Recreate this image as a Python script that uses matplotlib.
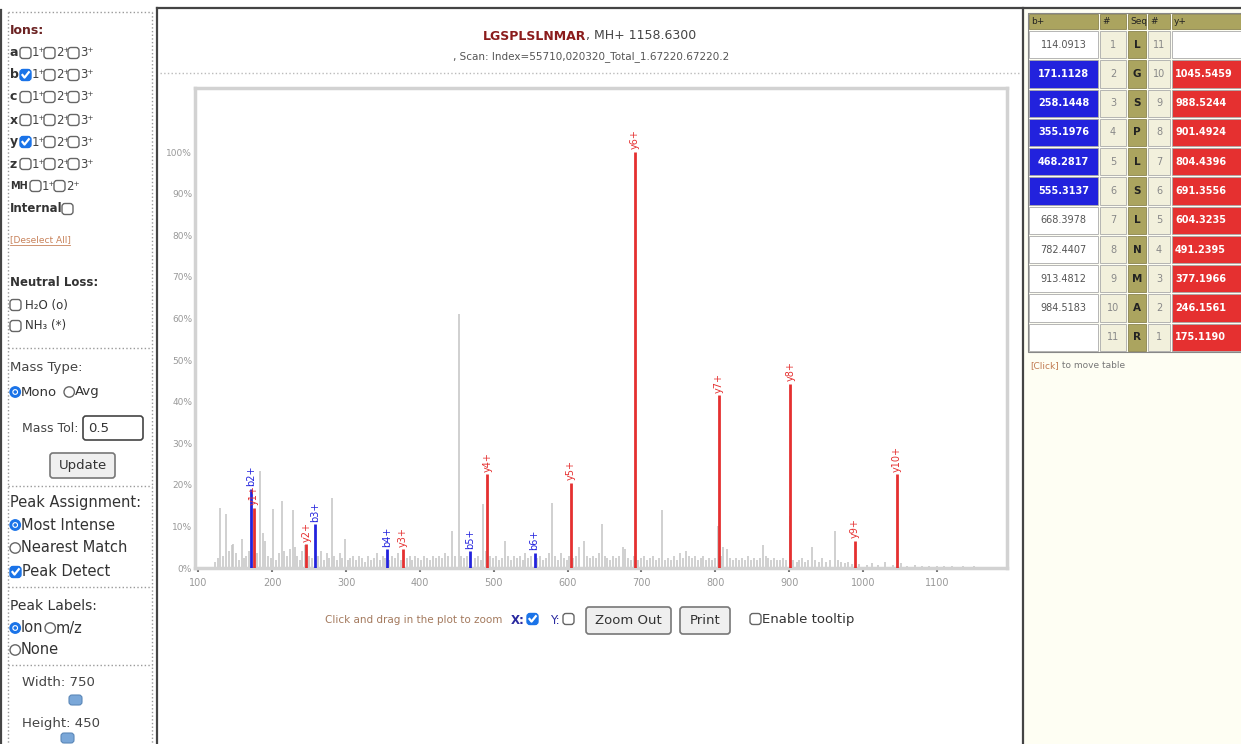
import matplotlib
matplotlib.use("Agg")
import matplotlib.pyplot as plt
from matplotlib.patches import Rectangle, Circle, FancyBboxPatch

# ---------------- data ----------------
sequence = list("LGSPLSLNMAR")
b_values = [114.0913, 171.1128, 258.1448, 355.1976, 468.2817, 555.3137,
            668.3978, 782.4407, 913.4812, 984.5183, None]
y_values = [None, 1045.5459, 988.5244, 901.4924, 804.4396, 691.3556,
            604.3235, 491.2395, 377.1966, 246.1561, 175.1190]
b_matched = [False, True, True, True, True, True, False, False, False, False, False]
y_matched = [False, True, True, True, True, True, True, True, True, True, True]

b_labels = ["b2+", "b3+", "b4+", "b5+", "b6+"]
b_mz = [171.11, 258.14, 355.20, 468.28, 555.31]
b_int = [19.0, 10.5, 4.5, 4.0, 3.7]

y_labels = ["y1+", "y2+", "y3+", "y4+", "y5+", "y6+", "y7+", "y8+", "y9+", "y10+"]
y_mz = [175.12, 246.16, 377.20, 491.24, 604.32, 691.36, 804.44, 901.49, 988.52, 1045.55]
y_int = [14.5, 5.7, 4.5, 22.5, 20.5, 100.0, 41.5, 44.2, 6.5, 22.5]

noise_mz = [122, 126, 129.4, 133, 137, 141, 145, 147, 151, 155, 158.7, 162, 165, 168,
            179, 183.5, 187, 190, 194, 198, 201.6, 205, 209, 212.9, 216, 220, 224,
            227.8, 231, 234, 238, 241, 244, 250, 254, 262, 266, 270, 274, 277, 280.6,
            284, 288, 292, 295, 298.6, 302, 306, 310, 314, 318, 322, 326, 330, 334,
            338, 342, 346, 350, 353, 358, 362, 366, 370, 374, 382, 386, 390, 394,
            398, 402, 406, 410, 414, 418, 422, 426, 430, 434, 438, 443, 447, 453,
            456, 460, 464, 475, 479, 483, 486, 489, 495, 499, 503, 507, 511, 515,
            519, 523, 527, 531, 535, 539, 543, 547, 551, 559, 563, 567, 571, 575,
            579.4, 583, 587, 591, 595, 599, 602, 608, 612, 616, 622, 626, 630, 634,
            638, 642, 646, 650, 654, 658, 662, 666, 670, 675, 678, 682, 686, 690,
            696, 700, 704, 708, 712, 716, 720, 724, 727.5, 732, 736, 740, 744, 748,
            752, 756, 760, 764, 768, 772, 776, 780, 784, 788, 792, 796, 800, 804,
            808, 811, 815.5, 820, 824, 828, 832, 836, 840, 844, 848, 852, 856, 860,
            865, 868, 872, 876, 880, 884, 888, 892, 896, 901, 905, 910, 914, 918,
            922, 926, 930.6, 935, 940, 945, 950, 955, 962, 966, 970, 975, 980, 985,
            995, 1005, 1012, 1020, 1030, 1040, 1052, 1060, 1070, 1080, 1090, 1100,
            1110, 1120, 1135, 1150, 1165]
noise_int = [1.5, 2.5, 14.5, 3.0, 13.0, 4.0, 5.5, 5.8, 3.5, 2.0, 7.0, 2.5, 3.0, 4.0,
             3.5, 23.3, 8.5, 6.4, 3.0, 2.5, 14.2, 2.0, 3.5, 16.0, 4.0, 3.0, 4.5,
             14.0, 5.0, 3.0, 2.0, 4.0, 5.5, 3.0, 2.5, 3.0, 4.0, 2.0, 3.5, 2.5, 16.9,
             3.0, 2.0, 3.5, 2.5, 7.0, 2.0, 2.5, 3.0, 2.0, 3.0, 2.5, 1.5, 3.0, 2.0,
             2.5, 3.5, 2.0, 3.0, 2.5, 2.0, 3.0, 2.5, 3.5, 2.0, 2.5, 3.0, 2.0, 3.0,
             2.5, 2.0, 3.0, 2.5, 2.0, 3.0, 2.5, 3.0, 2.5, 3.5, 3.0, 8.9, 3.0, 61.0,
             3.0, 2.5, 3.0, 2.5, 3.0, 2.0, 15.3, 4.0, 3.0, 2.5, 3.0, 2.0, 2.5, 6.5,
             3.0, 2.0, 3.0, 2.5, 3.0, 2.0, 3.5, 2.5, 3.0, 2.5, 3.0, 2.0, 2.5, 3.5,
             15.7, 3.0, 2.0, 3.5, 2.5, 2.0, 3.0, 2.5, 3.0, 5.0, 6.5, 3.0, 2.5, 3.0,
             2.5, 3.5, 10.5, 3.0, 2.5, 2.0, 3.0, 2.5, 3.0, 5.0, 4.5, 2.5, 2.0, 3.0,
             2.0, 2.5, 3.0, 2.0, 2.5, 3.0, 2.0, 2.5, 14.0, 2.0, 2.5, 2.0, 3.0, 2.0,
             3.5, 2.5, 4.0, 3.0, 2.5, 3.0, 2.0, 2.5, 3.0, 2.0, 2.5, 2.0, 2.5, 10.0,
             3.0, 5.0, 4.5, 2.5, 2.0, 2.5, 2.0, 2.5, 2.0, 3.0, 2.0, 2.5, 2.0, 2.5,
             5.5, 3.0, 2.5, 2.0, 2.5, 2.0, 2.0, 2.5, 2.0, 12.5, 2.0, 1.5, 2.0, 2.5,
             1.5, 2.0, 5.0, 2.0, 1.5, 2.5, 1.5, 2.0, 8.9, 2.0, 1.5, 1.2, 1.5, 1.0,
             1.0, 0.8, 1.2, 0.8, 1.5, 0.8, 1.2, 0.6, 0.8, 0.5, 0.6, 0.5,
             0.4, 0.5, 0.4, 0.4, 0.3]

x_ticks = [100, 200, 300, 400, 500, 600, 700, 800, 900, 1000, 1100]
y_ticks = [0, 10, 20, 30, 40, 50, 60, 70, 80, 90, 100]
y_tick_labels = [f"{v}%" for v in y_ticks]

# ---------------- figure ----------------
W, H = 1241, 744
plt.rcParams["font.family"] = ["DejaVu Sans"]
fig = plt.figure(figsize=(W / 100, H / 100), dpi=100)
fig.patch.set_facecolor("white")
ui = fig.add_axes([0, 0, 1, 1])
ui.set_xlim(0, W)
ui.set_ylim(H, 0)
ui.axis("off")

BLUE = "#2222dd"
RED = "#e53030"
CHK = "#1a73e8"
TXT = "#333333"


def rect(x0, y0, x1, y1, fc="none", ec="none", lw=1, ls="-", z=1, rounded=False):
    if rounded:
        p = FancyBboxPatch((x0, y0), x1 - x0, y1 - y0, boxstyle="round,pad=0,rounding_size=3",
                           fc=fc, ec=ec, lw=lw, zorder=z)
    else:
        p = Rectangle((x0, y0), x1 - x0, y1 - y0, fc=fc, ec=ec, lw=lw, ls=ls, zorder=z)
    ui.add_patch(p)


def checkbox(x, y, checked, s=11):
    if checked:
        rect(x, y - s / 2, x + s, y + s / 2, fc=CHK, ec=CHK, lw=1, z=3, rounded=True)
        ui.plot([x + 2.5, x + 4.5, x + 8.8], [y, y + 2.6, y - 2.8], color="white", lw=1.6, zorder=4)
    else:
        rect(x, y - s / 2, x + s, y + s / 2, fc="white", ec="#666666", lw=1, z=3, rounded=True)


def radio(x, y, checked, r=5.2):
    if checked:
        ui.add_patch(Circle((x + r, y), r, fc=CHK, ec=CHK, lw=1, zorder=3))
        ui.add_patch(Circle((x + r, y), r * 0.45, fc=CHK, ec="white", lw=0.8, zorder=4))
    else:
        ui.add_patch(Circle((x + r, y), r, fc="white", ec="#666666", lw=1, zorder=3))


def text(x, y, s, size=9, color=TXT, ha="left", va="center", **kw):
    return ui.text(x, y, s, fontsize=size, color=color, ha=ha, va=va, **kw)


# ---------------- panel borders ----------------
rect(1024, 9, W + 2, H + 2, fc="#fefef3", z=0)
ui.plot([157, 157], [8, H], color="#444444", lw=1.6, zorder=5)
ui.plot([1023, 1023], [8, H], color="#444444", lw=1.6, zorder=5)
ui.plot([157, W], [8, 8], color="#444444", lw=1.6, zorder=5)
ui.plot([1, 1], [10, H], color="#444444", lw=1.6, zorder=5)

# left panel dotted boxes
for yy in [12, 348, 486, 587, 665]:
    ui.plot([8, 152], [yy, yy], color="#9a9a9a", lw=1, ls=":", zorder=2)
ui.plot([8, 8], [12, H], color="#9a9a9a", lw=1, ls=":", zorder=2)
ui.plot([152, 152], [12, H], color="#9a9a9a", lw=1, ls=":", zorder=2)

# ---------------- left panel ----------------
LX = 10
text(LX, 30, "Ions:", 9, color="#6b2222", fontweight="bold")
ion_rows = [("a", [False, False, False], 53), ("b", [True, False, False], 75),
            ("c", [False, False, False], 97), ("x", [False, False, False], 120),
            ("y", [True, False, False], 142), ("z", [False, False, False], 164)]
for letter, states, yy in ion_rows:
    text(LX, yy, letter, 9, fontweight="bold")
    for k, st in enumerate(states):
        bx = 20 + k * 24
        checkbox(bx, yy, st)
        text(bx + 12, yy, f"{k + 1}\u207A", 8.5, color="#444444")
text(LX, 186, "MH", 7, fontweight="bold")
for k in range(2):
    bx = 30 + k * 24
    checkbox(bx, 186, False)
    text(bx + 12, 186, f"{k + 1}\u207A", 8.5, color="#444444")
text(LX, 209, "Internal", 8.5, fontweight="bold")
checkbox(62, 209, False)
text(LX, 240, "[Deselect All]", 6.5, color="#c8825a")
ui.plot([LX, 70], [245, 245], color="#c8825a", lw=0.6)
text(LX, 282, "Neutral Loss:", 8.5, color="#333333", fontweight="bold")
checkbox(LX, 305, False)
text(LX + 15, 305, "H\u2082O (o)", 8.5)
checkbox(LX, 326, False)
text(LX + 15, 326, "NH\u2083 (*)", 8.5)

text(LX, 368, "Mass Type:", 9.5, color="#444444")
radio(LX, 392, True)
text(LX + 11, 392, "Mono", 9.5)
radio(LX + 54, 392, False)
text(LX + 65, 392, "Avg", 9.5)
text(22, 428, "Mass Tol:", 9, color="#444444")
rect(83, 416, 143, 440, fc="white", ec="#444444", lw=1.2, z=3, rounded=True)
text(88, 428, "0.5", 9.5)
rect(50, 453, 115, 478, fc="#efefef", ec="#777777", lw=1.2, z=3, rounded=True)
text(82.5, 465.5, "Update", 9.5, ha="center")

text(LX, 503, "Peak Assignment:", 10.5)
radio(LX, 525, True)
text(LX + 11, 525, "Most Intense", 10.5)
radio(LX, 548, False)
text(LX + 11, 548, "Nearest Match", 10.5)
checkbox(LX, 572, True)
text(LX + 12, 572, "Peak Detect", 10.5)

text(LX, 606, "Peak Labels:", 10)
radio(LX, 628, True)
text(LX + 11, 628, "Ion", 10.5)
radio(LX + 35, 628, False)
text(LX + 46, 628, "m/z", 10.5)
radio(LX, 650, False)
text(LX + 11, 650, "None", 10.5)

text(22, 683, "Width: 750", 9.5, color="#444444")
rect(69, 695, 82, 705, fc="#7aa7d8", ec="#5a87b8", lw=0.8, z=4, rounded=True)
text(22, 723, "Height: 450", 9.5, color="#444444")
rect(61, 733, 74, 743, fc="#7aa7d8", ec="#5a87b8", lw=0.8, z=4, rounded=True)

# ---------------- title ----------------
t1 = text(483, 36, "LGSPLSLNMAR", 9, color="#8b1c1c", fontweight="semibold")
ui.annotate(", MH+ 1158.6300", xy=(1, 0.5), xycoords=t1, va="center", ha="left",
            fontsize=9, color="#444444")
text(591, 57, ", Scan: Index=55710,020320_Total_1.67220.67220.2", 7.5, color="#555555", ha="center")
ui.plot([160, 1021], [73, 73], color="#bbbbbb", lw=1, ls=":", zorder=2)

# ---------------- spectrum ----------------
ax = fig.add_axes([195 / W, 1 - 568 / H, 812 / W, 480 / H])
ax.set_xlim(95.5, 1195)
ax.set_ylim(0, 115.4)
ax.vlines(noise_mz, 0, noise_int, color="#c4c4c4", lw=1.1, zorder=2)
ax.vlines(y_mz, 0, y_int, color=RED, lw=2.0, zorder=3)
ax.vlines(b_mz, 0, b_int, color=BLUE, lw=2.0, zorder=3)
for lab, mz, it in zip(y_labels, y_mz, y_int):
    ax.annotate(lab, (mz, it), xytext=(0, 2), textcoords="offset points", rotation=90,
                ha="center", va="bottom", fontsize=7, color=RED, zorder=5)
for lab, mz, it in zip(b_labels, b_mz, b_int):
    ax.annotate(lab, (mz, it), xytext=(0, 2), textcoords="offset points", rotation=90,
                ha="center", va="bottom", fontsize=7, color=BLUE, zorder=5)
ax.set_xticks(x_ticks)
ax.set_xticklabels([str(v) for v in x_ticks])
ax.set_yticks(y_ticks)
ax.set_yticklabels(y_tick_labels)
ax.tick_params(axis="x", length=3, width=1.5, color="#777777", labelsize=7,
               labelcolor="#999999", pad=4)
ax.tick_params(axis="y", length=0, labelsize=6.5, labelcolor="#999999", pad=2)
for sp in ax.spines.values():
    sp.set_color("#d2d2d2")
    sp.set_linewidth(2.5)
ax.set_facecolor("white")

# ---------------- bottom controls ----------------
text(325, 620, "Click and drag in the plot to zoom", 7.5, color="#a47a5e")
text(511, 620, "X:", 8.5, color="#2a2aa0", fontweight="bold")
checkbox(527, 619, True)
text(550, 620, "Y:", 8.5, color="#2a2aa0")
checkbox(563, 619, False)
rect(586, 607, 671, 634, fc="#efefef", ec="#777777", lw=1.2, z=3, rounded=True)
text(628.5, 620.5, "Zoom Out", 9.5, ha="center")
rect(680, 607, 730, 634, fc="#efefef", ec="#777777", lw=1.2, z=3, rounded=True)
text(705, 620.5, "Print", 9.5, ha="center")
checkbox(750, 619, False)
text(762, 620, "Enable tooltip", 9.5)

# ---------------- right table ----------------
col_edges = [1028, 1099, 1127, 1147, 1171, 1250]
head_top, head_bot = 13, 30
row_h = (352 - head_bot) / 11.0
OLIVE = "#aba45f"
BEIGE = "#f2f0dc"
headers = ["b+", "#", "Seq", "#", "y+"]
for c, h in enumerate(headers):
    rect(col_edges[c] + 1, head_top + 1, col_edges[c + 1] - 1, head_bot - 1, fc=OLIVE, ec="#8a8450", lw=0.6, z=2)
    text(col_edges[c] + 3, (head_top + head_bot) / 2, h, 6.5, color="#222222")
for i in range(11):
    y0 = head_bot + i * row_h
    yc = y0 + row_h / 2
    bv = b_values[i]
    fc = BLUE if b_matched[i] else "white"
    rect(col_edges[0] + 1, y0 + 1, col_edges[1] - 1, y0 + row_h - 1, fc=fc, ec="#aaaaaa", lw=0.6, z=2)
    if bv is not None:
        if b_matched[i]:
            text((col_edges[0] + col_edges[1]) / 2, yc, f"{bv:.4f}", 7, color="white", ha="center", fontweight="bold")
        else:
            text((col_edges[0] + col_edges[1]) / 2, yc, f"{bv:.4f}", 7, color="#555555", ha="center")
    rect(col_edges[1] + 1, y0 + 1, col_edges[2] - 1, y0 + row_h - 1, fc=BEIGE, ec="#aaaaaa", lw=0.6, z=2)
    text((col_edges[1] + col_edges[2]) / 2, yc, str(i + 1), 7, color="#888888", ha="center")
    rect(col_edges[2] + 1, y0 + 1, col_edges[3] - 1, y0 + row_h - 1, fc=OLIVE, ec="#8a8450", lw=0.6, z=2)
    text((col_edges[2] + col_edges[3]) / 2, yc, sequence[i], 7.5, color="#222222", ha="center", fontweight="bold")
    rect(col_edges[3] + 1, y0 + 1, col_edges[4] - 1, y0 + row_h - 1, fc=BEIGE, ec="#aaaaaa", lw=0.6, z=2)
    text((col_edges[3] + col_edges[4]) / 2, yc, str(11 - i), 7, color="#888888", ha="center")
    yv = y_values[i]
    fc = RED if y_matched[i] else "white"
    rect(col_edges[4] + 1, y0 + 1, col_edges[5] - 1, y0 + row_h - 1, fc=fc, ec="#aaaaaa", lw=0.6, z=2)
    if yv is not None:
        text(col_edges[4] + 4, yc, f"{yv:.4f}", 7, color="white", fontweight="bold")
rect(col_edges[0], head_top, W + 5, 352, fc="none", ec="#888888", lw=0.8, z=3)
c1 = text(1030, 366, "[Click]", 6.5, color="#c07a50")
ui.annotate(" to move table", xy=(1, 0.5), xycoords=c1, va="center", ha="left", fontsize=6.5, color="#777777")

fig.savefig("out.png", dpi=100, facecolor="white")
